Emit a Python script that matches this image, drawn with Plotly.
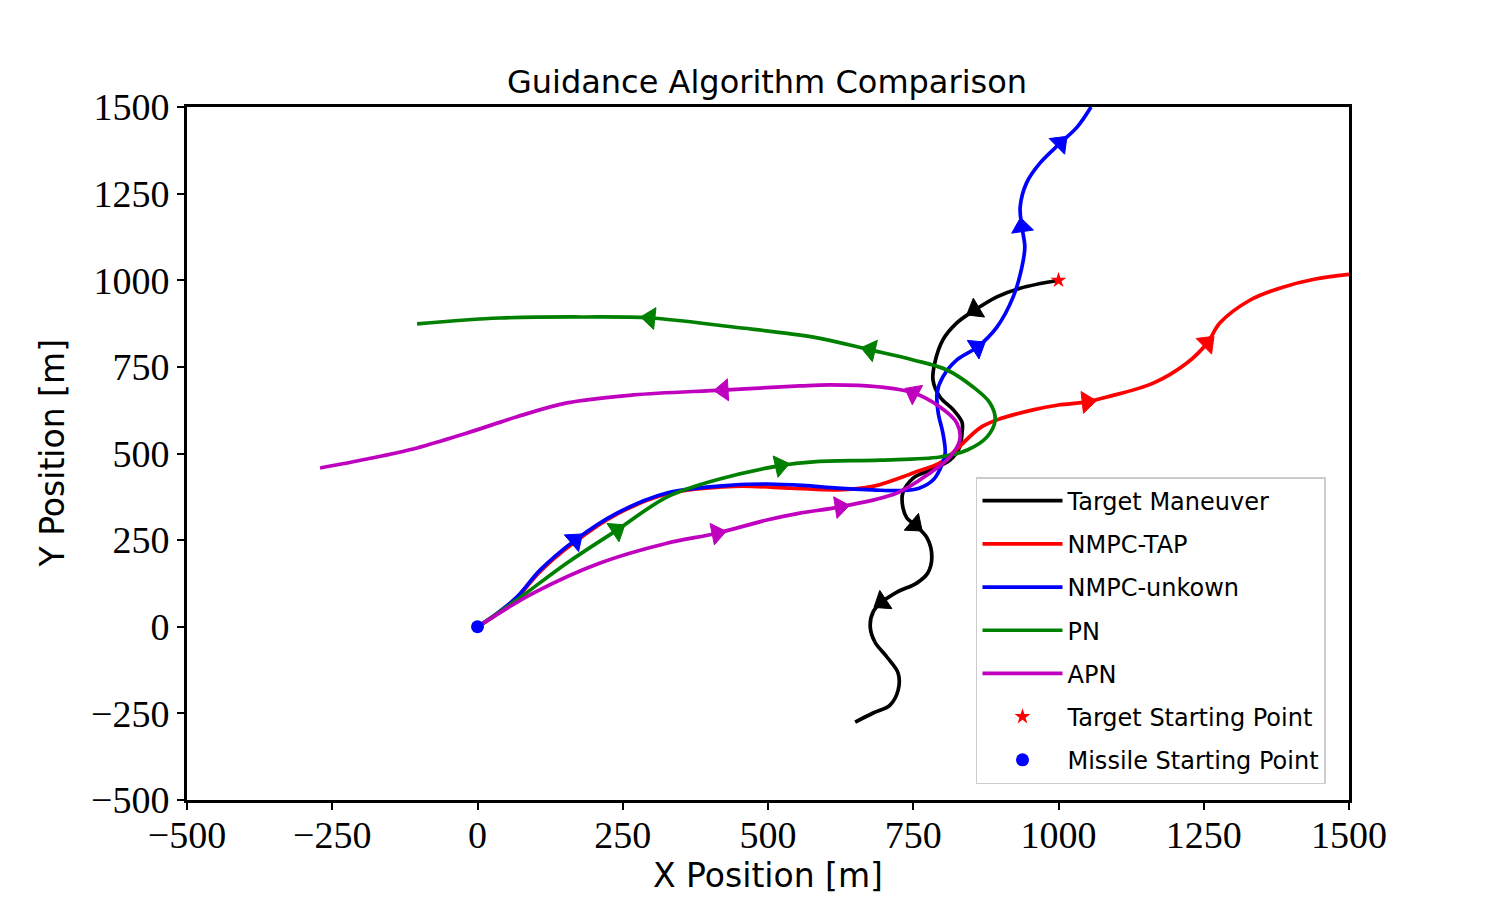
import plotly.graph_objects as go

# trajectories (metres)
target_x = [1000, 934, 894, 856, 825, 801, 787, 784, 796, 819, 834, 834, 830, 813, 779, 750,
            732, 732, 739, 753, 774, 782, 775, 756, 722, 696, 681, 676, 684, 705, 724, 724,
            710, 681, 650]
target_y = [1000, 977, 952, 914, 877, 828, 761, 712, 663, 626, 590, 560, 519, 481, 452, 429,
            386, 346, 314, 294, 256, 201, 155, 126, 100, 71, 43, -1, -44, -88, -134, -183,
            -226, -249, -275]
target_arrows = [3, 19, 25]

tap_x = [0, 30, 68, 108, 168, 240, 326, 440, 540, 620, 680, 750, 796, 818, 865, 894, 956,
         1000, 1049, 1083, 1163, 1221, 1256, 1278, 1330, 1386, 1440, 1500]
tap_y = [0, 32, 84, 160, 245, 325, 383, 405, 400, 395, 405, 444, 473, 502, 574, 597, 626,
         640, 649, 663, 703, 761, 819, 877, 943, 980, 1003, 1017]
tap_arrows = [18, 22]

unk_x = [0, 30, 68, 108, 168, 240, 326, 440, 500, 560, 620, 680, 730, 760, 785, 800, 805,
         801, 793, 791, 801, 825, 860, 894, 922, 937, 942, 937, 934, 945, 968, 1003, 1032, 1056]
unk_y = [0, 34, 86, 164, 250, 328, 386, 409, 412, 408, 400, 395, 393, 400, 425, 470, 502,
         559, 617, 675, 721, 770, 807, 865, 952, 1038, 1096, 1154, 1211, 1281, 1338, 1396,
         1442, 1500]
unk_arrows = [4, 22, 27, 31]

pn_x = [0, 68, 154, 240, 326, 412, 521, 578, 693, 796, 843, 877, 891, 882, 853, 808, 750,
        676, 578, 440, 297, 182, 39, -104]
pn_y = [0, 78, 184, 279, 374, 424, 465, 476, 481, 490, 510, 548, 597, 646, 692, 741, 770,
        799, 836, 865, 891, 894, 891, 874]
pn_arrows = [3, 6, 17, 20]

apn_x = [0, 15, 96, 211, 326, 412, 498, 555, 624, 722, 779, 813, 830, 825, 796, 750, 693,
         607, 555, 423, 268, 154, 68, -18, -104, -190, -271]
apn_y = [0, 16, 97, 184, 241, 270, 308, 328, 346, 386, 444, 490, 539, 588, 634, 675, 692,
         698, 695, 683, 669, 646, 606, 559, 516, 484, 458]
apn_arrows = [5, 8, 15, 19]

target_start = (1000, 1000)
missile_start = (0, 0)

ticks = [-500, -250, 0, 250, 500, 750, 1000, 1250, 1500]
tick_text = [str(t).replace("-", "\u2212") for t in ticks]

series = [
    ("Target Maneuver", target_x, target_y, target_arrows, "black"),
    ("NMPC-TAP", tap_x, tap_y, tap_arrows, "red"),
    ("NMPC-unkown", unk_x, unk_y, unk_arrows, "blue"),
    ("PN", pn_x, pn_y, pn_arrows, "green"),
    ("APN", apn_x, apn_y, apn_arrows, "#bf00bf"),
]

fig = go.Figure()

for name, xs, ys, arrows, color in series:
    fig.add_trace(go.Scatter(
        x=xs, y=ys, mode="lines", name=name, legendgroup=name,
        line=dict(color=color, width=3.7, shape="spline", smoothing=1.0),
    ))
    # arrow heads: pair (previous point, arrow point), first one hidden
    ax, ay, sz = [], [], []
    for i in arrows:
        ax += [xs[i - 1], xs[i]]
        ay += [ys[i - 1], ys[i]]
        sz += [0, 19]
    fig.add_trace(go.Scatter(
        x=ax, y=ay, mode="markers", showlegend=False, legendgroup=name, hoverinfo="skip",
        marker=dict(symbol="triangle-up", size=sz, color=color, angleref="previous",
                    opacity=1, line=dict(width=1, color=color)),
    ))

fig.add_trace(go.Scatter(
    x=[target_start[0]], y=[target_start[1]], mode="markers", name="Target Starting Point",
    legendgroup="ts", marker=dict(symbol="star", size=12, color="red", line=dict(width=0)),
))
fig.add_trace(go.Scatter(
    x=[missile_start[0]], y=[missile_start[1]], mode="markers", name="Missile Starting Point",
    legendgroup="ms", marker=dict(symbol="circle", size=13, color="blue", line=dict(width=0)),
))

axis_style = dict(
    range=[-500, 1500], tickvals=ticks, ticktext=tick_text,
    tickfont=dict(family="Liberation Serif", size=38, color="black"),
    ticks="outside", ticklen=7, tickwidth=1.5, tickcolor="black",
    showline=True, linecolor="black", linewidth=3, mirror=True,
    showgrid=False, zeroline=False,
)

fig.update_layout(
    width=1500, height=900,
    margin=dict(l=179, r=159, t=99, b=108),
    plot_bgcolor="white", paper_bgcolor="white",
    title=dict(text="Guidance Algorithm Comparison", x=0.506, xanchor="center",
               y=0.918, yanchor="middle",
               font=dict(family="DejaVu Sans", size=32, color="black")),
    xaxis=dict(axis_style, ticklabelstandoff=-8,
               title=dict(text="X Position [m]", standoff=10,
                          font=dict(family="DejaVu Sans", size=33, color="black"))),
    yaxis=dict(axis_style),
    annotations=[dict(text="Y Position [m]", textangle=-90, xref="paper", yref="paper",
                      x=0, y=0.5, xanchor="center", yanchor="middle", xshift=-135,
                      showarrow=False,
                      font=dict(family="DejaVu Sans", size=33, color="black"))],
    legend=dict(x=0.679, y=0.466, xanchor="left", yanchor="top",
                font=dict(family="DejaVu Sans", size=24, color="black"),
                bgcolor="rgba(255,255,255,0.85)", bordercolor="#cccccc", borderwidth=1.5,
                tracegroupgap=9, traceorder="grouped", itemwidth=80),
    showlegend=True,
)

fig.write_html("out.html")
